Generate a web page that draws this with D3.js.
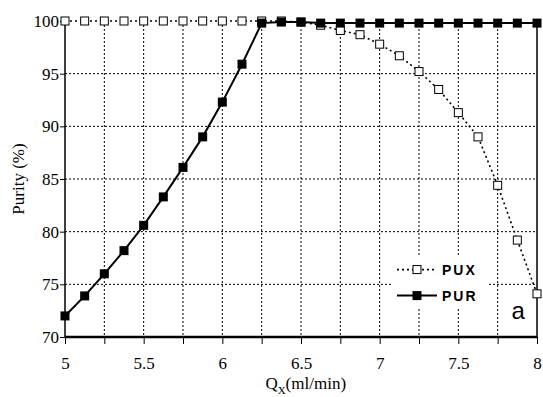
<!DOCTYPE html>
<html>
<head>
<meta charset="utf-8">
<script src="https://cdn.jsdelivr.net/npm/d3@7"></script>
<style>
  body { margin: 0; background: #fff; }
</style>
</head>
<body>
<div id="chart"></div>
<script>
// Flow rate Qx (ml/min)
var flow = [5, 5.125, 5.25, 5.375, 5.5, 5.625, 5.75, 5.875, 6, 6.125, 6.25, 6.375, 6.5,
  6.625, 6.75, 6.875, 7, 7.125, 7.25, 7.375, 7.5, 7.625, 7.75, 7.875, 8];

// Purity of extract (open squares)
var pux = [100, 100, 100, 100, 100, 100, 100, 100, 100, 100, 100, 100, 99.9,
  99.6, 99.1, 98.7, 97.8, 96.7, 95.2, 93.5, 91.3, 89.0, 84.4, 79.2, 74.1];

// Purity of raffinate (filled squares)
var pur = [72.0, 73.9, 76.0, 78.2, 80.6, 83.3, 86.1, 89.0, 92.3, 95.9, 99.8, 99.9, 99.9,
  99.8, 99.8, 99.8, 99.8, 99.8, 99.8, 99.8, 99.8, 99.8, 99.8, 99.8, 99.8];

var xTickLabels = [5, 5.5, 6, 6.5, 7, 7.5, 8];
var yTickLabels = [70, 75, 80, 85, 90, 95, 100];

var serif = "Liberation Serif";
var sans = "Liberation Sans";

var svgWidth = 543;
var svgHeight = 397;
var margin = { top: 21, right: 6, bottom: 60, left: 65 };
var width = svgWidth - margin.left - margin.right;
var height = svgHeight - margin.top - margin.bottom;

var svg = d3.select("#chart")
  .append("svg")
  .attr("width", svgWidth)
  .attr("height", svgHeight);

var chartGroup = svg.append("g")
  .attr("transform", `translate(${margin.left}, ${margin.top})`);

var xScale = d3.scaleLinear().domain([5, 8]).range([0, width]);
var yScale = d3.scaleLinear().domain([70, 100]).range([height, 0]);

var xGrid = d3.range(5.25, 8, 0.25);
var yGrid = yTickLabels.slice(1, -1);

// dotted grid
chartGroup.selectAll(".vgrid")
  .data(xGrid)
  .enter()
  .append("line")
  .attr("x1", d => xScale(d)).attr("x2", d => xScale(d))
  .attr("y1", 0).attr("y2", height)
  .attr("stroke", "#000").attr("stroke-width", 1)
  .attr("stroke-dasharray", "2,2");

chartGroup.selectAll(".hgrid")
  .data(yGrid)
  .enter()
  .append("line")
  .attr("x1", 0).attr("x2", width)
  .attr("y1", d => yScale(d)).attr("y2", d => yScale(d))
  .attr("stroke", "#000").attr("stroke-width", 1)
  .attr("stroke-dasharray", "2,2");

// legend box background covering grid
var legend = chartGroup.append("g")
  .attr("transform", `translate(${xScale(7.11)}, ${yScale(76.4)})`);
legend.append("rect")
  .attr("x", -6).attr("y", -14)
  .attr("width", 96).attr("height", 52)
  .attr("fill", "#fff");

// axes
var bottomAxis = d3.axisBottom(xScale)
  .tickValues(d3.range(5, 8.01, 0.25))
  .tickSize(7)
  .tickFormat(d => xTickLabels.includes(d) ? d3.format("")(d) : "");
var leftAxis = d3.axisLeft(yScale)
  .tickValues(yTickLabels)
  .tickSize(5)
  .tickFormat(d3.format(""));

var xAxisG = chartGroup.append("g")
  .attr("transform", `translate(0, ${height})`)
  .call(bottomAxis);
xAxisG.select(".domain").remove();
xAxisG.selectAll(".tick text")
  .attr("dy", "1.3em")
  .attr("font-family", serif)
  .attr("font-size", 17);

var yAxisG = chartGroup.append("g").call(leftAxis);
yAxisG.select(".domain").remove();
yAxisG.selectAll(".tick text")
  .attr("x", -6)
  .attr("font-family", serif)
  .attr("font-size", 17);

// frame
chartGroup.append("line")
  .attr("x1", 0).attr("x2", width).attr("y1", height).attr("y2", height)
  .attr("stroke", "#000").attr("stroke-width", 2.5);
chartGroup.append("line")
  .attr("x1", 0).attr("x2", 0).attr("y1", 0).attr("y2", height)
  .attr("stroke", "#000").attr("stroke-width", 1.5);
chartGroup.append("line")
  .attr("x1", width).attr("x2", width).attr("y1", 0).attr("y2", height)
  .attr("stroke", "#000").attr("stroke-width", 1.5);

// series
var line = d3.line()
  .x(d => xScale(d[0]))
  .y(d => yScale(d[1]));

var puxData = flow.map((f, i) => [f, pux[i]]);
var purData = flow.map((f, i) => [f, pur[i]]);

chartGroup.append("path")
  .datum(puxData)
  .attr("d", line)
  .attr("fill", "none")
  .attr("stroke", "#000")
  .attr("stroke-width", 1.6)
  .attr("stroke-dasharray", "2,3");

chartGroup.selectAll(".puxPt")
  .data(puxData)
  .enter()
  .append("rect")
  .attr("x", d => xScale(d[0]) - 4)
  .attr("y", d => yScale(d[1]) - 4)
  .attr("width", 8).attr("height", 8)
  .attr("fill", "#fff")
  .attr("stroke", "#000")
  .attr("stroke-width", 1);

chartGroup.append("path")
  .datum(purData)
  .attr("d", line)
  .attr("fill", "none")
  .attr("stroke", "#000")
  .attr("stroke-width", 2);

chartGroup.selectAll(".purPt")
  .data(purData)
  .enter()
  .append("rect")
  .attr("x", d => xScale(d[0]) - 4.5)
  .attr("y", d => yScale(d[1]) - 4.5)
  .attr("width", 9).attr("height", 9)
  .attr("fill", "#000");

// legend entries
legend.append("line")
  .attr("x1", 0).attr("x2", 40).attr("y1", 0).attr("y2", 0)
  .attr("stroke", "#000").attr("stroke-width", 1.6)
  .attr("stroke-dasharray", "2,3");
legend.append("rect")
  .attr("x", 16).attr("y", -4).attr("width", 8).attr("height", 8)
  .attr("fill", "#fff").attr("stroke", "#000");
legend.append("text")
  .attr("x", 45).attr("y", 5)
  .attr("font-family", sans)
  .attr("font-size", 14).attr("font-weight", "bold")
  .attr("letter-spacing", 2)
  .text("PUX");

legend.append("line")
  .attr("x1", 0).attr("x2", 40).attr("y1", 26).attr("y2", 26)
  .attr("stroke", "#000").attr("stroke-width", 2);
legend.append("rect")
  .attr("x", 15.5).attr("y", 21.5).attr("width", 9).attr("height", 9)
  .attr("fill", "#000");
legend.append("text")
  .attr("x", 45).attr("y", 31)
  .attr("font-family", sans)
  .attr("font-size", 14).attr("font-weight", "bold")
  .attr("letter-spacing", 2)
  .text("PUR");

// panel letter
chartGroup.append("text")
  .attr("x", xScale(7.88))
  .attr("y", yScale(71.7))
  .attr("text-anchor", "middle")
  .attr("font-family", sans)
  .attr("font-size", 24)
  .text("a");

// axis titles
chartGroup.append("text")
  .attr("transform", "rotate(-90)")
  .attr("y", -margin.left + 24)
  .attr("x", -yScale(85))
  .attr("text-anchor", "middle")
  .attr("font-family", serif)
  .attr("font-size", 17)
  .text("Purity  (%)");

var xTitle = chartGroup.append("text")
  .attr("transform", `translate(${xScale(6.53)}, ${height + 52})`)
  .attr("text-anchor", "middle")
  .attr("font-family", serif)
  .attr("font-size", 17);
xTitle.append("tspan").text("Q");
xTitle.append("tspan").attr("dy", 5).attr("font-size", 11).text("X");
xTitle.append("tspan").attr("dy", -5).text("(ml/min)");
</script>
</body>
</html>
